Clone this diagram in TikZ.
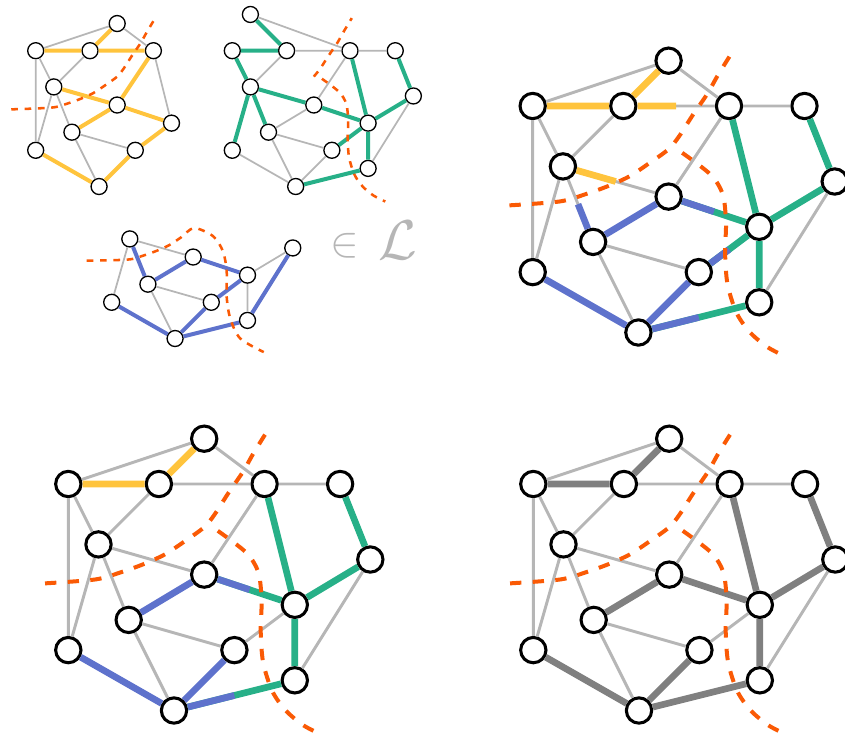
\documentclass[tikz,border=0pt]{standalone}
\usepackage{amsmath}
\usepackage{tikz}
\usetikzlibrary{calc}

\definecolor{yel}{RGB}{255,196,61}
\definecolor{grn}{RGB}{39,176,136}
\definecolor{blu}{RGB}{94,114,204}
\definecolor{lgray}{RGB}{182,182,182}
\definecolor{dgray}{RGB}{128,128,128}
\definecolor{cutorange}{RGB}{250,90,5}

\begin{document}
\begin{tikzpicture}[x=0.75pt,y=-0.75pt,
bignode/.style={circle, draw=black, fill=white, line width=2.3pt, minimum size=19pt, inner sep=0pt},
smallnode/.style={circle, draw=black, fill=white, line width=1pt, minimum size=12pt, inner sep=0pt},
bigthin/.style={lgray, line width=2.2pt},
bigthick/.style={line width=5pt},
smallthin/.style={lgray, line width=1.3pt},
smallthick/.style={line width=3pt},
bigcut/.style={cutorange, line width=3pt, dash pattern=on 8.5pt off 8.5pt},
smallcut/.style={cutorange, line width=1.9pt, dash pattern=on 5pt off 5pt},
]
\useasboundingbox (0,0) rectangle (845,742);

% Yellow
\begin{scope}[shift={(35.7,50.7)},x=13.58pt,y=-13.58pt]
\node[smallnode] (t1) at (4.5,-1.5) {};
\node[smallnode] (a1) at (0,0) {};
\node[smallnode] (b1) at (3,0) {};
\node[smallnode] (c1) at (6.5,0) {};
\node[smallnode] (e1) at (1,2) {};
\node[smallnode] (g1) at (4.5,3) {};
\node[smallnode] (h1) at (7.5,4) {};
\node[smallnode] (i1) at (2,4.5) {};
\node[smallnode] (j1) at (0,5.5) {};
\node[smallnode] (k1) at (5.5,5.5) {};
\node[smallnode] (m1) at (3.5,7.5) {};
\draw[smallthin] (t1) -- (a1) (t1) -- (c1) (a1) -- (e1) (a1) -- (j1) (b1) -- (e1)
  (c1) -- (h1) (e1) -- (i1) (e1) -- (j1) (i1) -- (k1) (i1) -- (m1);
\draw[smallthick, yel] (t1) -- (b1) (a1) -- (b1) (b1) -- (c1) (c1) -- (g1) (e1) -- (g1)
  (g1) -- (h1) (g1) -- (i1) (j1) -- (m1) (k1) -- (m1) (h1) -- (k1);
% Cut
\draw[smallcut] plot[smooth] coordinates {(-1.35,3.24) (0.9,3.14) (1.75,2.92) (2.5,2.65)
  (3.2,2.33) (3.85,1.9) (4.5,1.43) (4.85,1.0) (5.3,0.3) (5.78,-0.4) (6.15,-1.05) (6.6,-1.8)};
\end{scope}

% Green
\begin{scope}[shift={(232.3,50.7)},x=13.58pt,y=-13.58pt]
\node[smallnode] (t2) at (1,-2) {};
\node[smallnode] (a2) at (0,0) {};
\node[smallnode] (b2) at (3,0) {};
\node[smallnode] (c2) at (6.5,0) {};
\node[smallnode] (d2) at (9,0) {};
\node[smallnode] (e2) at (1,2) {};
\node[smallnode] (f2) at (10,2.5) {};
\node[smallnode] (g2) at (4.5,3) {};
\node[smallnode] (h2) at (7.5,4) {};
\node[smallnode] (i2) at (2,4.5) {};
\node[smallnode] (j2) at (0,5.5) {};
\node[smallnode] (k2) at (5.5,5.5) {};
\node[smallnode] (l2) at (7.5,6.5) {};
\node[smallnode] (m2) at (3.5,7.5) {};
\draw[smallthin] (t2) -- (c2) (b2) -- (c2) (c2) -- (d2) (b2) -- (e2) (c2) -- (g2) (f2) -- (l2)
  (g2) -- (i2) (i2) -- (k2) (i2) -- (m2) (j2) -- (m2) (k2) -- (m2);
\draw[smallthick, grn] (t2) -- (b2) (a2) -- (b2) (a2) -- (e2) (e2) -- (g2) (e2) -- (i2) (e2) -- (j2)
  (c2) -- (h2) (d2) -- (f2) (f2) -- (h2) (g2) -- (h2) (h2) -- (k2) (h2) -- (l2) (m2) -- (l2);
% Cut
\draw[smallcut] plot[smooth] coordinates {(4.5,1.43) (4.85,1.0) (5.3,0.3) (5.78,-0.4) (6.15,-1.05) (6.6,-1.8)};
\draw[smallcut] plot[smooth] coordinates {(4.95,1.55) (5.9,2.28) (6.3,2.95) (6.4,3.9) (6.37,4.85)
  (6.45,5.9) (6.75,6.85) (7.2,7.5) (7.8,8.0) (8.45,8.33)};
\end{scope}

% Blue
\begin{scope}[shift={(111.7,202.7)},x=13.58pt,y=-13.58pt]
\node[smallnode] (e3) at (1,2) {};
\node[smallnode] (f3) at (10,2.5) {};
\node[smallnode] (g3) at (4.5,3) {};
\node[smallnode] (h3) at (7.5,4) {};
\node[smallnode] (i3) at (2,4.5) {};
\node[smallnode] (j3) at (0,5.5) {};
\node[smallnode] (k3) at (5.5,5.5) {};
\node[smallnode] (l3) at (7.5,6.5) {};
\node[smallnode] (m3) at (3.5,7.5) {};
\draw[smallthin] (e3) -- (g3) (e3) -- (j3) (f3) -- (h3) (h3) -- (l3) (i3) -- (k3) (i3) -- (m3);
\draw[smallthick, blu] (e3) -- (i3) (g3) -- (i3) (g3) -- (h3) (h3) -- (k3) (f3) -- (l3)
  (j3) -- (m3) (k3) -- (m3) (m3) -- (l3);
% Cut
\draw[smallcut] plot[smooth] coordinates {(-1.38,3.2) (0.9,3.14) (1.75,2.92) (2.5,2.65) (3.2,2.33)
  (3.85,1.9) (4.55,1.4) (5.6,1.85) (6.15,2.7) (6.35,3.8) (6.35,5.2) (6.55,6.4) (7.1,7.5) (8.4,8.25)};
\end{scope}

% Label
\node[lgray, inner sep=0pt, font=\Huge, scale=1.29] (member) at (344.7,245.3) {$\in$};
\node[lgray, inner sep=0pt, font=\Huge, scale=1.69] (lang) at (398,240) {$\mathcal{L}$};

% Top right
\begin{scope}[shift={(532.7,106)},x=22.65pt,y=-22.65pt]
\node[bignode] (t4) at (4.5,-1.5) {};
\node[bignode] (a4) at (0,0) {};
\node[bignode] (b4) at (3,0) {};
\node[bignode] (c4) at (6.5,0) {};
\node[bignode] (d4) at (9,0) {};
\node[bignode] (e4) at (1,2) {};
\node[bignode] (f4) at (10,2.5) {};
\node[bignode] (g4) at (4.5,3) {};
\node[bignode] (h4) at (7.5,4) {};
\node[bignode] (i4) at (2,4.5) {};
\node[bignode] (j4) at (0,5.5) {};
\node[bignode] (k4) at (5.5,5.5) {};
\node[bignode] (l4) at (7.5,6.5) {};
\node[bignode] (m4) at (3.5,7.5) {};
\draw[bigthin] (t4) -- (a4) (t4) -- (c4) (b4) -- (c4) (c4) -- (d4) (a4) -- (e4) (a4) -- (j4)
  (b4) -- (e4) (e4) -- (g4) (e4) -- (i4) (e4) -- (j4) (c4) -- (g4) (i4) -- (k4) (i4) -- (m4) (f4) -- (l4);
\draw[bigthick, yel] (t4) -- (b4) (a4) -- (b4) (b4) -- ($(b4)!.5!(c4)$) (e4) -- ($(e4)!.5!(g4)$);
\draw[bigthick, grn] (c4) -- (h4) (d4) -- (f4) (f4) -- (h4) (h4) -- (l4) (g4) -- (h4) (h4) -- (k4) (m4) -- (l4);
\draw[bigthick, blu] (g4) -- (i4) (j4) -- (m4) (k4) -- (m4) ($(e4)!.5!(i4)$) -- (i4)
  (g4) -- ($(g4)!.5!(h4)$) (k4) -- ($(k4)!.5!(h4)$) (m4) -- ($(m4)!.5!(l4)$);
% Cut
\draw[bigcut] plot[smooth] coordinates {(-0.77,3.29) (0.9,3.16) (1.75,2.92) (2.5,2.65) (3.2,2.33)
  (3.85,1.9) (4.5,1.43) (4.85,1.0) (5.3,0.3) (5.78,-0.4) (6.15,-1.05) (6.65,-1.85)};
\draw[bigcut] plot[smooth] coordinates {(4.95,1.55) (5.9,2.28) (6.3,2.95) (6.4,3.9) (6.37,4.85)
  (6.45,5.9) (6.75,6.85) (7.2,7.5) (7.8,8.0) (8.45,8.33)};
\end{scope}

% Bottom left
\begin{scope}[shift={(68.3,484)},x=22.65pt,y=-22.65pt]
\node[bignode] (t5) at (4.5,-1.5) {};
\node[bignode] (a5) at (0,0) {};
\node[bignode] (b5) at (3,0) {};
\node[bignode] (c5) at (6.5,0) {};
\node[bignode] (d5) at (9,0) {};
\node[bignode] (e5) at (1,2) {};
\node[bignode] (f5) at (10,2.5) {};
\node[bignode] (g5) at (4.5,3) {};
\node[bignode] (h5) at (7.5,4) {};
\node[bignode] (i5) at (2,4.5) {};
\node[bignode] (j5) at (0,5.5) {};
\node[bignode] (k5) at (5.5,5.5) {};
\node[bignode] (l5) at (7.5,6.5) {};
\node[bignode] (m5) at (3.5,7.5) {};
\draw[bigthin] (t5) -- (a5) (t5) -- (c5) (b5) -- (c5) (c5) -- (d5) (a5) -- (e5) (a5) -- (j5)
  (b5) -- (e5) (e5) -- (g5) (e5) -- (i5) (e5) -- (j5) (c5) -- (g5) (i5) -- (k5) (i5) -- (m5)
  (f5) -- (l5) (h5) -- (k5);
\draw[bigthick, yel] (t5) -- (b5) (a5) -- (b5);
\draw[bigthick, grn] (c5) -- (h5) (d5) -- (f5) (f5) -- (h5) (h5) -- (l5) (g5) -- (h5) (m5) -- (l5);
\draw[bigthick, blu] (g5) -- (i5) (j5) -- (m5) (k5) -- (m5) (g5) -- ($(g5)!.5!(h5)$) (m5) -- ($(m5)!.5!(l5)$);
% Cut
\draw[bigcut] plot[smooth] coordinates {(-0.77,3.29) (0.9,3.16) (1.75,2.92) (2.5,2.65) (3.2,2.33)
  (3.85,1.9) (4.5,1.43) (4.85,1.0) (5.3,0.3) (5.78,-0.4) (6.15,-1.05) (6.65,-1.85)};
\draw[bigcut] plot[smooth] coordinates {(4.95,1.55) (5.9,2.28) (6.3,2.95) (6.4,3.9) (6.37,4.85)
  (6.45,5.9) (6.75,6.85) (7.2,7.5) (7.8,8.0) (8.45,8.33)};
\end{scope}

% Bottom right
\begin{scope}[shift={(533.3,484)},x=22.65pt,y=-22.65pt]
\node[bignode] (t6) at (4.5,-1.5) {};
\node[bignode] (a6) at (0,0) {};
\node[bignode] (b6) at (3,0) {};
\node[bignode] (c6) at (6.5,0) {};
\node[bignode] (d6) at (9,0) {};
\node[bignode] (e6) at (1,2) {};
\node[bignode] (f6) at (10,2.5) {};
\node[bignode] (g6) at (4.5,3) {};
\node[bignode] (h6) at (7.5,4) {};
\node[bignode] (i6) at (2,4.5) {};
\node[bignode] (j6) at (0,5.5) {};
\node[bignode] (k6) at (5.5,5.5) {};
\node[bignode] (l6) at (7.5,6.5) {};
\node[bignode] (m6) at (3.5,7.5) {};
\draw[bigthin] (t6) -- (a6) (t6) -- (c6) (b6) -- (c6) (c6) -- (d6) (a6) -- (e6) (a6) -- (j6)
  (b6) -- (e6) (e6) -- (g6) (e6) -- (i6) (e6) -- (j6) (c6) -- (g6) (i6) -- (k6) (i6) -- (m6)
  (f6) -- (l6) (h6) -- (k6);
\draw[bigthick, dgray] (t6) -- (b6) (a6) -- (b6) (c6) -- (h6) (d6) -- (f6) (f6) -- (h6) (h6) -- (l6)
  (g6) -- (h6) (m6) -- (l6) (g6) -- (i6) (j6) -- (m6) (k6) -- (m6);
% Cut
\draw[bigcut] plot[smooth] coordinates {(-0.77,3.29) (0.9,3.16) (1.75,2.92) (2.5,2.65) (3.2,2.33)
  (3.85,1.9) (4.5,1.43) (4.85,1.0) (5.3,0.3) (5.78,-0.4) (6.15,-1.05) (6.65,-1.85)};
\draw[bigcut] plot[smooth] coordinates {(4.95,1.55) (5.9,2.28) (6.3,2.95) (6.4,3.9) (6.37,4.85)
  (6.45,5.9) (6.75,6.85) (7.2,7.5) (7.8,8.0) (8.45,8.33)};
\end{scope}

\end{tikzpicture}
\end{document}
